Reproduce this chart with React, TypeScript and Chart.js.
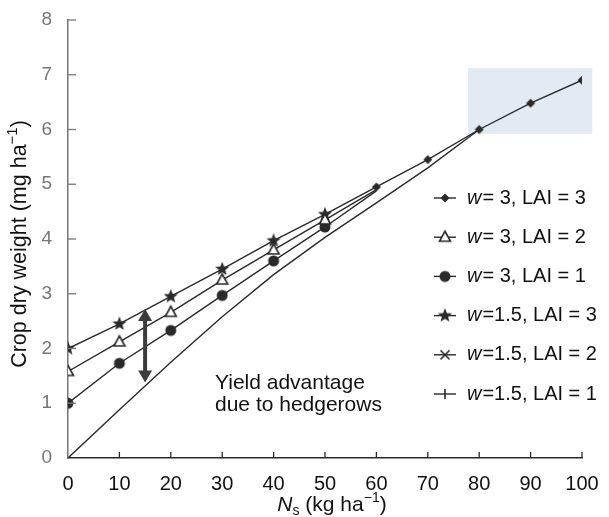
import React, { useEffect, useRef } from "react";
import { Chart, registerables } from "chart.js";

Chart.register(...registerables);

const FONT = '"Liberation Sans", Arial, Helvetica, sans-serif';
const INK = "#2a2a2a";

// ---- data ----
const seriesLabels = [
  "w= 3, LAI = 3",
  "w= 3, LAI = 2",
  "w= 3, LAI = 1",
  "w=1.5, LAI = 3",
  "w=1.5, LAI = 2",
  "w=1.5, LAI = 1",
];
const seriesMarkers = ["diamond", "triangle", "circle", "star", "asterisk", "plus"];

const aX = [60, 70, 80, 90, 100];
const aY = [4.95, 5.45, 6.0, 6.48, 6.9];

const bX = [0, 10, 20, 30, 40, 50, 60];
const bY = [1.58, 2.12, 2.66, 3.25, 3.8, 4.35, 4.9];

const cX = [0, 10, 20, 30, 40, 50, 60];
const cY = [1.0, 1.73, 2.33, 2.97, 3.6, 4.22, 4.88];

const dX = [0, 10, 20, 30, 40, 50, 60];
const dY = [2.0, 2.45, 2.95, 3.45, 3.97, 4.45, 4.95];

const eX: number[] = [];
const eY: number[] = [];

const fX = [0, 10, 20, 30, 40, 50, 60, 70, 80];
const fY = [0, 0.88, 1.75, 2.58, 3.35, 4.03, 4.66, 5.3, 6.0];

const xTickValues = [0, 10, 20, 30, 40, 50, 60, 70, 80, 90, 100];
const yTickValues = [0, 1, 2, 3, 4, 5, 6, 7, 8];

// annotation: yield-advantage arrow and note, highlighted box
const arrowX = 15;
const arrowLow = 1.38;
const arrowHigh = 2.72;
const noteLines = ["Yield advantage", "due to hedgerows"];
const noteX = 28.6;
const noteY = [1.37, 0.97];
const boxX = [77.8, 102];
const boxY = [5.92, 7.12];

type Part = { t: string; style?: "italic" | "sub" | "sup" };

const xTitle: Part[] = [
  { t: "N", style: "italic" },
  { t: "s", style: "sub" },
  { t: " (kg ha" },
  { t: "\u22121", style: "sup" },
  { t: ")" },
];
const yTitle: Part[] = [
  { t: "Crop dry weight (mg ha" },
  { t: "\u22121", style: "sup" },
  { t: ")" },
];

function partFont(p: Part, size: number) {
  if (p.style === "sub" || p.style === "sup") return `${Math.round(size * 0.68)}px ${FONT}`;
  if (p.style === "italic") return `italic ${size}px ${FONT}`;
  return `${size}px ${FONT}`;
}

function drawRich(ctx: CanvasRenderingContext2D, parts: Part[], cx: number, cy: number, size: number) {
  let total = 0;
  const widths = parts.map((p) => {
    ctx.font = partFont(p, size);
    const w = ctx.measureText(p.t).width;
    total += w;
    return w;
  });
  let x = cx - total / 2;
  ctx.textAlign = "left";
  ctx.textBaseline = "middle";
  parts.forEach((p, i) => {
    ctx.font = partFont(p, size);
    let y = cy;
    if (p.style === "sub") y = cy + size * 0.3;
    if (p.style === "sup") y = cy - size * 0.35;
    ctx.fillText(p.t, x, y);
    x += widths[i];
  });
}

function makeMarker(kind: string): HTMLCanvasElement {
  const c = document.createElement("canvas");
  c.width = 18;
  c.height = 18;
  const g = c.getContext("2d")!;
  g.translate(9, 9);
  g.fillStyle = INK;
  g.strokeStyle = INK;
  g.lineWidth = 1.6;
  g.beginPath();
  if (kind === "diamond") {
    g.moveTo(0, -4.5);
    g.lineTo(4.5, 0);
    g.lineTo(0, 4.5);
    g.lineTo(-4.5, 0);
    g.closePath();
    g.fill();
  } else if (kind === "triangle") {
    g.moveTo(0, -6);
    g.lineTo(5.5, 4);
    g.lineTo(-5.5, 4);
    g.closePath();
    g.fillStyle = "#fff";
    g.fill();
    g.stroke();
  } else if (kind === "circle") {
    g.arc(0, 0, 5.5, 0, Math.PI * 2);
    g.fill();
  } else if (kind === "star") {
    for (let i = 0; i < 10; i++) {
      const r = i % 2 === 0 ? 7.5 : 3.2;
      const a = -Math.PI / 2 + (i * Math.PI) / 5;
      const px = Math.cos(a) * r;
      const py = Math.sin(a) * r;
      if (i === 0) g.moveTo(px, py);
      else g.lineTo(px, py);
    }
    g.closePath();
    g.fill();
  } else if (kind === "asterisk") {
    g.moveTo(-4.5, -4.5);
    g.lineTo(4.5, 4.5);
    g.moveTo(4.5, -4.5);
    g.lineTo(-4.5, 4.5);
    g.stroke();
  } else if (kind === "plus") {
    g.moveTo(0, -5);
    g.lineTo(0, 5);
    g.stroke();
  }
  return c;
}

function pts(xs: number[], ys: number[]) {
  return xs.map((x, i) => ({ x, y: ys[i] }));
}

export default function App() {
  const ref = useRef<HTMLCanvasElement>(null);

  useEffect(() => {
    const canvas = ref.current;
    if (!canvas) return;
    const markers = seriesMarkers.map((k) => makeMarker(k));

    const xsList = [aX, bX, cX, dX, eX, fX];
    const ysList = [aY, bY, cY, dY, eY, fY];
    const radii = [
      aX.map(() => 5),
      bX.map((x) => (x <= 50 ? 6 : 0)),
      cX.map((x) => (x <= 50 ? 6 : 0)),
      dX.map((x) => (x <= 50 ? 7 : 0)),
      eX.map(() => 0),
      fX.map(() => 0),
    ];

    const datasets = seriesLabels.map((label, i) => ({
      label,
      data: pts(xsList[i], ysList[i]),
      borderColor: INK,
      backgroundColor: INK,
      borderWidth: 1.4,
      pointStyle: markers[i] as any,
      pointRadius: radii[i],
      tension: 0,
      fill: false,
    }));

    const decor = {
      id: "decor",
      beforeDatasetsDraw(chart: any) {
        const { ctx, scales } = chart;
        const xs = scales.x;
        const ys = scales.y;
        ctx.save();
        ctx.fillStyle = "#e4eaf2";
        const x0 = xs.getPixelForValue(boxX[0]);
        const x1 = xs.getPixelForValue(boxX[1]);
        const y0 = ys.getPixelForValue(boxY[1]);
        const y1 = ys.getPixelForValue(boxY[0]);
        ctx.fillRect(x0, y0, x1 - x0, y1 - y0);
        ctx.restore();
      },
      afterDatasetsDraw(chart: any) {
        const { ctx, scales, chartArea } = chart;
        const xs = scales.x;
        const ys = scales.y;
        ctx.save();
        // tick marks (inside)
        ctx.strokeStyle = INK;
        ctx.lineWidth = 1.3;
        xTickValues.forEach((v) => {
          if (v === 0) return;
          const px = xs.getPixelForValue(v);
          ctx.beginPath();
          ctx.moveTo(px, chartArea.bottom);
          ctx.lineTo(px, chartArea.bottom - 6);
          ctx.stroke();
        });
        ctx.strokeStyle = "#777";
        yTickValues.forEach((v) => {
          if (v === 0) return;
          const py = ys.getPixelForValue(v);
          ctx.beginPath();
          ctx.moveTo(chartArea.left, py);
          ctx.lineTo(chartArea.left + 8, py);
          ctx.stroke();
        });

        // double arrow
        const ax = xs.getPixelForValue(arrowX);
        const aTop = ys.getPixelForValue(arrowHigh);
        const aBot = ys.getPixelForValue(arrowLow);
        ctx.strokeStyle = "#3c3c3c";
        ctx.fillStyle = "#3c3c3c";
        ctx.lineWidth = 4;
        ctx.beginPath();
        ctx.moveTo(ax, aTop + 8);
        ctx.lineTo(ax, aBot - 8);
        ctx.stroke();
        ctx.beginPath();
        ctx.moveTo(ax, aTop);
        ctx.lineTo(ax + 7, aTop + 12);
        ctx.lineTo(ax - 7, aTop + 12);
        ctx.closePath();
        ctx.fill();
        ctx.beginPath();
        ctx.moveTo(ax, aBot);
        ctx.lineTo(ax + 7, aBot - 12);
        ctx.lineTo(ax - 7, aBot - 12);
        ctx.closePath();
        ctx.fill();

        // note text
        ctx.fillStyle = "#111";
        ctx.font = `21px ${FONT}`;
        ctx.textAlign = "left";
        ctx.textBaseline = "middle";
        noteLines.forEach((t, i) => {
          ctx.fillText(t, xs.getPixelForValue(noteX), ys.getPixelForValue(noteY[i]));
        });

        // legend
        const mx = chartArea.right - 137;
        chart.data.datasets.forEach((ds: any, i: number) => {
          const y = chartArea.top + 178 + i * 39.2;
          ctx.strokeStyle = INK;
          ctx.lineWidth = 1.4;
          ctx.beginPath();
          ctx.moveTo(mx - 11, y);
          ctx.lineTo(mx + 11, y);
          ctx.stroke();
          const m = markers[i];
          ctx.drawImage(m, mx - m.width / 2, y - m.height / 2);
          const label: string = ds.label;
          ctx.fillStyle = "#111";
          ctx.textAlign = "left";
          ctx.textBaseline = "middle";
          ctx.font = `italic 20px ${FONT}`;
          const tx = mx + 22;
          ctx.fillText(label[0], tx, y);
          const w0 = ctx.measureText(label[0]).width;
          ctx.font = `20px ${FONT}`;
          ctx.fillText(label.slice(1), tx + w0 + 1, y);
        });

        // axis titles
        ctx.fillStyle = "#111";
        drawRich(ctx, xTitle, (chartArea.left + chartArea.right) / 2 + 7, chartArea.bottom + 47, 21);
        ctx.translate(20, (chartArea.top + chartArea.bottom) / 2 + 5);
        ctx.rotate(-Math.PI / 2);
        drawRich(ctx, yTitle, 0, 0, 21.5);
        ctx.restore();
      },
    };

    const chart = new Chart(canvas, {
      type: "line",
      data: { datasets },
      options: {
        animation: false,
        responsive: false,
        devicePixelRatio: 1,
        layout: { padding: { top: 20, right: 27, left: 0, bottom: 0 } },
        plugins: { legend: { display: false }, tooltip: { enabled: false } },
        scales: {
          x: {
            type: "linear",
            min: 0,
            max: 100,
            grid: { display: false },
            border: { display: true, color: INK, width: 1.5 },
            ticks: {
              stepSize: 10,
              color: "#111",
              padding: 6,
              font: { family: FONT, size: 20 },
              maxRotation: 0,
            },
            afterFit(scale: any) {
              scale.height = 59;
            },
          },
          y: {
            type: "linear",
            min: 0,
            max: 8,
            grid: { display: false },
            border: { display: true, color: "#777", width: 1.5 },
            ticks: {
              stepSize: 1,
              color: "#777",
              padding: 8,
              font: { family: FONT, size: 19 },
            },
            afterFit(scale: any) {
              scale.width = 68;
            },
          },
        },
      },
      plugins: [decor],
    });

    return () => chart.destroy();
  }, []);

  return (
    <div style={{ position: "fixed", left: 0, top: 0, width: 609, height: 517, background: "#fff" }}>
      <canvas ref={ref} width={609} height={517} style={{ display: "block", width: 609, height: 517 }} />
    </div>
  );
}
